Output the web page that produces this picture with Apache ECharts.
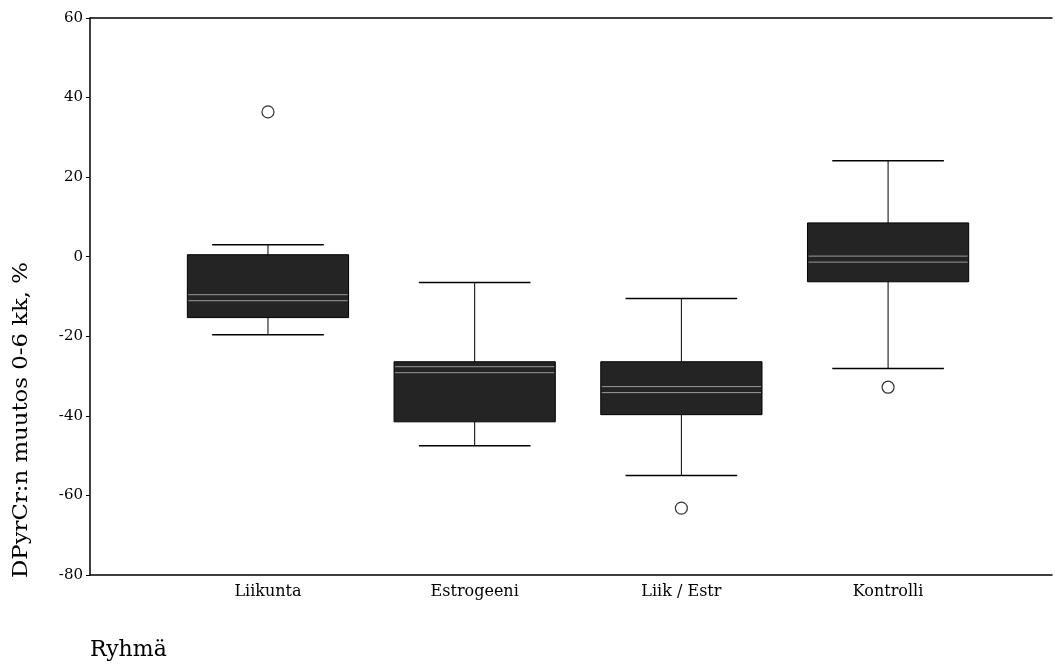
<!DOCTYPE html>
<html>
<head>
<meta charset="utf-8">
<script src="https://cdn.jsdelivr.net/npm/echarts@6/dist/echarts.min.js"></script>
<style>html,body{margin:0;padding:0;background:#fff;}#c{width:1057px;height:667px;}</style>
</head>
<body>
<div id="c"></div>
<script>
// Data
const categories = ['Liikunta', 'Estrogeeni', 'Liik / Estr', 'Kontrolli'];
const whiskerLow  = [-19.6, -47.5, -55.0, -28.1];
const q1Values    = [-15.3, -41.5, -39.7, -6.3];
const medians     = [-10.3, -28.4, -33.4, -0.6];
const q3Values    = [0.5, -26.4, -26.4, 8.5];
const whiskerHigh = [3.0, -6.5, -10.5, 24.1];
const outlierGroups = [1, 3, 4];
const outlierValues = [36.4, -63.2, -32.8];
const yTicks = [-80, -60, -40, -20, 0, 20, 40, 60];

const boxData = categories.map((c, i) => [i + 1, whiskerLow[i], q1Values[i], medians[i], q3Values[i], whiskerHigh[i]]);
const outlierData = outlierGroups.map((g, i) => [g, outlierValues[i]]);

const serif = '"DejaVu Serif", "Liberation Serif", serif';
const chart = echarts.init(document.getElementById('c'));

function renderBox(params, api) {
  const x = api.value(0);
  const pLow = api.coord([x, api.value(1)]);
  const pQ1 = api.coord([x, api.value(2)]);
  const pMed = api.coord([x, api.value(3)]);
  const pQ3 = api.coord([x, api.value(4)]);
  const pHigh = api.coord([x, api.value(5)]);
  const unit = api.size([1, 0])[0];
  const bw = unit * 0.78;
  const cw = unit * 0.54;
  const cx = pMed[0];
  const lineStyle = { stroke: '#000', lineWidth: 1 };
  const capStyle = { stroke: '#000', lineWidth: 1.5 };
  return {
    type: 'group',
    children: [
      { type: 'line', shape: { x1: cx, y1: pHigh[1], x2: cx, y2: pQ3[1] }, style: lineStyle },
      { type: 'line', shape: { x1: cx, y1: pQ1[1], x2: cx, y2: pLow[1] }, style: lineStyle },
      { type: 'line', shape: { x1: cx - cw / 2, y1: pHigh[1], x2: cx + cw / 2, y2: pHigh[1] }, style: capStyle },
      { type: 'line', shape: { x1: cx - cw / 2, y1: pLow[1], x2: cx + cw / 2, y2: pLow[1] }, style: capStyle },
      { type: 'rect', shape: { x: cx - bw / 2, y: pQ3[1], width: bw, height: pQ1[1] - pQ3[1] },
        style: { fill: '#242424', stroke: '#000', lineWidth: 1 } },
      { type: 'line', shape: { x1: cx - bw / 2 + 1, y1: pMed[1] - 3, x2: cx + bw / 2 - 1, y2: pMed[1] - 3 },
        style: { stroke: '#9a9a9a', lineWidth: 1 } },
      { type: 'line', shape: { x1: cx - bw / 2 + 1, y1: pMed[1] + 3, x2: cx + bw / 2 - 1, y2: pMed[1] + 3 },
        style: { stroke: '#9a9a9a', lineWidth: 1 } }
    ]
  };
}

const option = {
  animation: false,
  backgroundColor: '#fff',
  grid: { left: 90, top: 18, right: 5, bottom: 92 },
  xAxis: [
    {
      type: 'value', min: 0.139, max: 4.793, position: 'bottom',
      splitLine: { show: false },
      axisLine: { show: true, onZero: false, lineStyle: { color: '#000', width: 1.5 } },
      axisTick: { show: false },
      axisLabel: {
        color: '#000', fontFamily: serif, fontSize: 16, margin: 9,
        showMinLabel: false, showMaxLabel: false,
        formatter: v => (Number.isInteger(v) && categories[v - 1]) ? categories[v - 1] : ''
      }
    },
    {
      type: 'value', min: 0.139, max: 4.793, position: 'top',
      splitLine: { show: false },
      axisLine: { show: true, onZero: false, lineStyle: { color: '#000', width: 1.5 } },
      axisTick: { show: false }, axisLabel: { show: false }
    }
  ],
  yAxis: {
    type: 'value', min: yTicks[0], max: yTicks[yTicks.length - 1], interval: 20,
    splitLine: { show: false },
    axisLine: { show: true, onZero: false, lineStyle: { color: '#000', width: 1.5 } },
    axisTick: { show: true, length: 4, lineStyle: { color: '#000' } },
    axisLabel: { color: '#000', fontFamily: serif, fontSize: 15, margin: 7 }
  },
  graphic: [
    { type: 'text', x: 22, y: 420, rotation: Math.PI / 2, scaleX: 1.14,
      style: { text: 'DPyrCr:n muutos 0-6 kk, %', font: '20px ' + serif, fill: '#000',
               align: 'center', verticalAlign: 'middle' } },
    { type: 'text', x: 90, y: 650,
      style: { text: 'Ryhmä', font: '22px ' + serif, fill: '#000', align: 'left', verticalAlign: 'middle' } }
  ],
  series: [
    { type: 'custom', renderItem: renderBox, data: boxData, encode: { x: 0, y: [1, 2, 3, 4, 5] }, z: 2 },
    { type: 'scatter', data: outlierData, symbol: 'circle', symbolSize: 12,
      itemStyle: { color: '#fff', borderColor: '#000', borderWidth: 1.2 }, z: 3 }
  ]
};
chart.setOption(option);
</script>
</body>
</html>
